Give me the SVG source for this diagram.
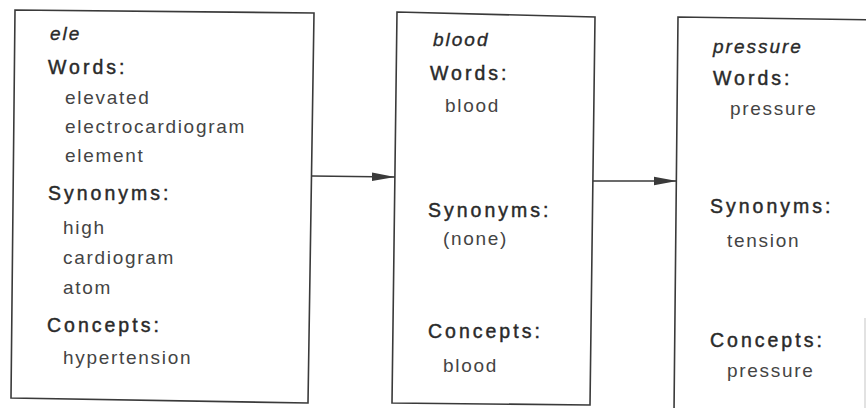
<svg xmlns="http://www.w3.org/2000/svg" width="866" height="408" viewBox="0 0 866 408">
<style>
.box{fill:none;stroke:#3a3a3a;stroke-width:1.6;stroke-linejoin:miter}
.t{font-family:"Liberation Sans",Arial,sans-serif;font-size:19px;font-style:italic;fill:#2a2a2a;stroke:#2a2a2a;stroke-width:0.35;letter-spacing:2px}
.h{font-family:"Liberation Sans",Arial,sans-serif;font-size:19.5px;fill:#2a2a2a;stroke:#2a2a2a;stroke-width:0.45;letter-spacing:3px}
.i{font-family:"Liberation Sans",Arial,sans-serif;font-size:19px;fill:#444;letter-spacing:1.7px}
.conn{stroke:#3a3a3a;stroke-width:1.6;fill:none}
</style>
<defs>
<marker id="ah" markerWidth="24" markerHeight="10" refX="23" refY="5" orient="auto" markerUnits="userSpaceOnUse">
<path d="M0,0.8 L23,5 L0,9.2 Z" fill="#3a3a3a"/>
</marker>
</defs>
<rect width="866" height="408" fill="#fff"/>
<g id="node-ele">
<polygon class="box" points="15,10 314,13 308,403 11,398"/>
<text class="t" x="50" y="40">ele</text>
<text class="h" x="48" y="74">Words:</text>
<text class="i" x="65" y="104">elevated</text>
<text class="i" x="65" y="133">electrocardiogram</text>
<text class="i" x="65" y="162">element</text>
<text class="h" x="48" y="200">Synonyms:</text>
<text class="i" x="63" y="234">high</text>
<text class="i" x="63" y="264">cardiogram</text>
<text class="i" x="63" y="294">atom</text>
<text class="h" x="47" y="332">Concepts:</text>
<text class="i" x="63" y="364">hypertension</text>
</g>
<g id="node-blood">
<polygon class="box" points="397,12 595,17 590,405 392,403"/>
<text class="t" x="433" y="46">blood</text>
<text class="h" x="430" y="80">Words:</text>
<text class="i" x="445" y="112">blood</text>
<text class="h" x="428" y="217">Synonyms:</text>
<text class="i" x="443" y="245">(none)</text>
<text class="h" x="428" y="338">Concepts:</text>
<text class="i" x="443" y="372">blood</text>
</g>
<g id="node-pressure">
<polyline class="box" points="880,20 678,17 674,412"/>
<line x1="865" y1="318" x2="865" y2="408" stroke="#d8d8d8" stroke-width="1.5"/>
<text class="t" x="713" y="53">pressure</text>
<text class="h" x="713" y="85">Words:</text>
<text class="i" x="730" y="115">pressure</text>
<text class="h" x="710" y="213">Synonyms:</text>
<text class="i" x="727" y="247">tension</text>
<text class="h" x="710" y="347">Concepts:</text>
<text class="i" x="727" y="377">pressure</text>
</g>
<g id="connectors">
<line class="conn" x1="312" y1="176" x2="395" y2="177" marker-end="url(#ah)"/>
<line class="conn" x1="593" y1="181" x2="677" y2="181" marker-end="url(#ah)"/>
</g>
</svg>
